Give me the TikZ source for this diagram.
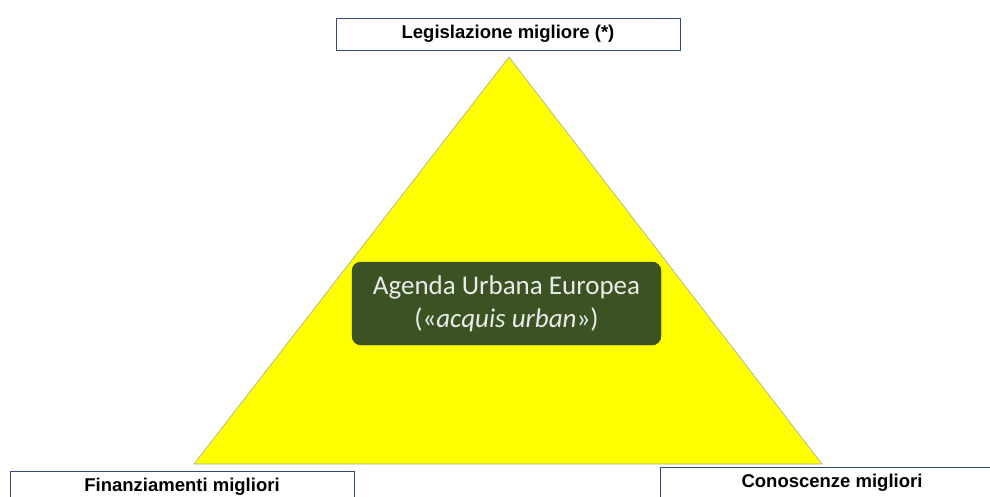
\documentclass[tikz,border=0pt]{standalone}
\usepackage{fontspec}
\setmainfont{Liberation Sans}
\newfontfamily\agendafont{Carlito}
\definecolor{boxline}{HTML}{2F4B7C}
\definecolor{agendagreen}{HTML}{3B5323}
\definecolor{pyramid}{HTML}{FFFF00}
\usetikzlibrary{positioning}

\tikzset{
  pillar/.style={draw=boxline, fill=white, line width=0.9pt, minimum width=344pt, minimum height=32pt, inner sep=0pt, font=\fontsize{18.5}{20}\selectfont\bfseries},
  agenda/.style={draw=agendagreen!70!black, fill=agendagreen, rounded corners=9pt, minimum width=309pt, minimum height=83pt, text=white!92!black, align=center, font=\agendafont\fontsize{27}{33}\selectfont}
}

\begin{document}
\begin{tikzpicture}[x=1pt,y=-1pt]
	\useasboundingbox (0,0) rectangle (990,497);
	\clip (0,0) rectangle (990,497);

	\coordinate (apex)  at (509,57);
	\coordinate (left)  at (194,464);
	\coordinate (right) at (822,464);
	\fill[pyramid, draw=gray!70, line width=0.6pt] (apex) -- (left) -- (right) -- cycle;

	\node[pillar] (law)       at (508,34)  {Legislazione migliore (*)};
	\node[pillar] (funding)   at (182,487) {Finanziamenti migliori};
	\node[pillar] (knowledge) at (832,483) {Conoscenze migliori};

	\node[agenda] (agenda) at (506.5,303.5) {Agenda Urbana Europea\\(«\textit{acquis urban}»)};
\end{tikzpicture}
\end{document}
